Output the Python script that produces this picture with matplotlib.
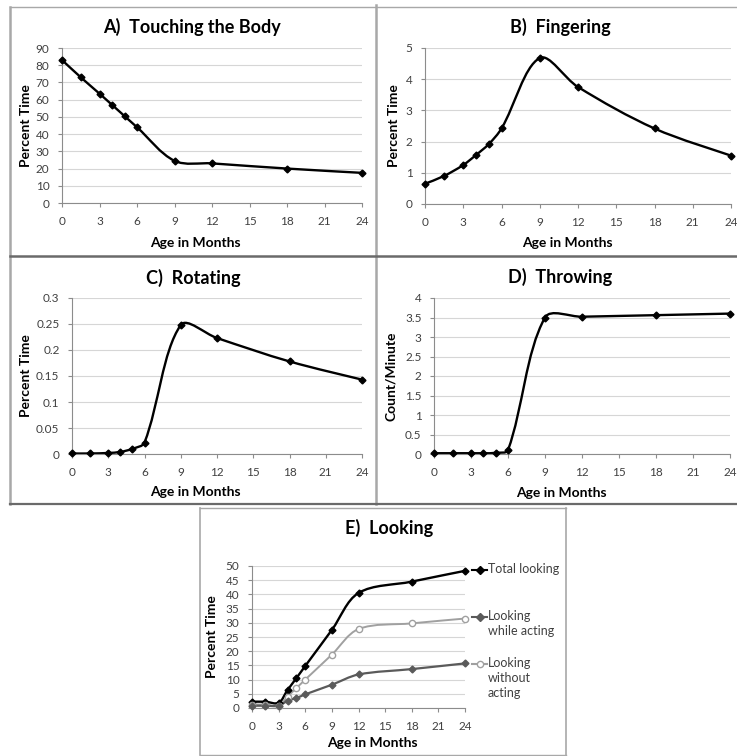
import numpy as np
import matplotlib
matplotlib.use("Agg")
import matplotlib.pyplot as plt
from matplotlib.path import Path
from matplotlib.patches import PathPatch
from matplotlib.lines import Line2D

plt.rcParams["font.family"] = ["Lato", "DejaVu Sans"]

# ages (months) at which each measure was taken
months = [0, 1.5, 3, 4, 5, 6, 9, 12, 18, 24]

touching = [83, 73, 63.5, 57, 50.5, 44, 24.5, 23, 20, 17.5]
fingering = [0.65, 0.9, 1.25, 1.57, 1.92, 2.42, 4.68, 3.75, 2.42, 1.55]
rotating = [0.001, 0.001, 0.002, 0.004, 0.01, 0.022, 0.248, 0.223, 0.178, 0.143]
throwing = [0.02, 0.02, 0.02, 0.02, 0.03, 0.1, 3.5, 3.52, 3.56, 3.6]

look_total = [2.2, 2.2, 1.8, 6.3, 10.5, 14.8, 27.5, 40.5, 44.5, 48.3]
look_acting = [0.8, 0.8, 0.8, 2.5, 3.5, 4.8, 8.2, 11.8, 13.7, 15.7]
look_without = [1.2, 1.2, 0.8, 4.0, 7.0, 10.0, 18.8, 27.8, 29.8, 31.5]

x_ticks = [0, 3, 6, 9, 12, 15, 18, 21, 24]
a_ticks = ["0", "10", "20", "30", "40", "50", "60", "70", "80", "90"]
b_ticks = ["0", "1", "2", "3", "4", "5"]
c_ticks = ["0", "0.05", "0.1", "0.15", "0.2", "0.25", "0.3"]
d_ticks = ["0", "0.5", "1", "1.5", "2", "2.5", "3", "3.5", "4"]
e_ticks = ["0", "5", "10", "15", "20", "25", "30", "35", "40", "45", "50"]

W, H = 737, 756
fig = plt.figure(figsize=(W / 100, H / 100), dpi=100)


def fx(px):
    return px / W


def fy(py):
    return 1 - py / H


def smooth_path(ax, x, y):
    # excel style smoothed line: bezier segments, tangents weighted by
    # the on-screen segment lengths so short flat steps don't overshoot
    pts = ax.transData.transform(np.column_stack([x, y]).astype(float))
    n = len(pts)
    seg = np.hypot(*np.diff(pts, axis=0).T)
    verts = [pts[0]]
    codes = [Path.MOVETO]
    for i in range(n - 1):
        p0 = pts[max(i - 1, 0)]
        p1 = pts[i]
        p2 = pts[i + 1]
        p3 = pts[min(i + 2, n - 1)]
        l_prev = seg[i - 1] if i > 0 else seg[i]
        l_next = seg[i + 1] if i < n - 2 else seg[i]
        f1 = seg[i] / (l_prev + seg[i]) / 3
        f2 = seg[i] / (seg[i] + l_next) / 3
        verts += [p1 + (p2 - p0) * f1, p2 - (p3 - p1) * f2, p2]
        codes += [Path.CURVE4] * 3
    verts = ax.transData.inverted().transform(np.array(verts))
    return Path(verts, codes)


def make_axes(box, ticks, ystep):
    l, r, t, b = box
    ax = fig.add_axes([fx(l), fy(b), fx(r - l), (b - t) / H])
    ymax = ystep * (len(ticks) - 1)
    ax.set_xlim(0, 24)
    ax.set_ylim(0, ymax)
    ax.set_xticks(x_ticks)
    ax.set_yticks(np.arange(len(ticks)) * ystep)
    ax.set_yticklabels(ticks)
    ax.yaxis.grid(True, color="#d6d6d6", lw=0.8)
    ax.set_axisbelow(True)
    for s in ["top", "right"]:
        ax.spines[s].set_visible(False)
    for s in ["left", "bottom"]:
        ax.spines[s].set_color("#8c8c8c")
        ax.spines[s].set_linewidth(0.8)
    ax.tick_params(labelsize=8.5, labelcolor="#404040", length=3, width=0.8,
                   color="#8c8c8c", pad=6)
    return ax


def draw_series(ax, y, color="black", lw=1.7, marker="D", ms=3.5, mfc=None):
    ax.add_patch(PathPatch(smooth_path(ax, months, y), fill=False, ec=color, lw=lw,
                           capstyle="round", joinstyle="round", clip_on=False))
    ax.plot(months, y, ls="none", marker=marker, ms=ms, color=color,
            mfc=mfc if mfc else color, mew=1.0, clip_on=False, zorder=3)


def label_panel(title, tx, ty, xlx, xly, ylx, yly, ylabel):
    fig.text(fx(tx), fy(ty), title, ha="center", va="center", fontsize=13,
             fontweight="bold")
    fig.text(fx(xlx), fy(xly), "Age in Months", ha="center", va="center",
             fontsize=10, fontweight="bold")
    fig.text(fx(ylx), fy(yly), ylabel, ha="center", va="center", fontsize=10,
             fontweight="bold", rotation=90)


# A) touching the body
ax = make_axes((62, 362, 48, 203), a_ticks, 10)
draw_series(ax, touching)
label_panel("A)  Touching the Body", 192, 27, 195, 243, 26, 126, "Percent Time")

# B) fingering
ax = make_axes((425, 731, 48, 204), b_ticks, 1)
draw_series(ax, fingering)
label_panel("B)  Fingering", 560, 27, 567, 243, 394, 126, "Percent Time")

# C) rotating
ax = make_axes((72, 362, 298, 454), c_ticks, 0.05)
draw_series(ax, rotating)
label_panel("C)  Rotating", 193, 278, 195, 492, 26, 376, "Percent Time")

# D) throwing
ax = make_axes((434, 730, 298, 454), d_ticks, 0.5)
draw_series(ax, throwing)
label_panel("D)  Throwing", 560, 277, 561, 493, 391, 376, "Count/Minute")

# E) looking
ax = make_axes((252, 465, 566, 708), e_ticks, 5)
draw_series(ax, look_total, color="black", lw=1.7)
draw_series(ax, look_without, color="#a0a0a0", lw=1.4, marker="o", ms=4.5, mfc="white")
draw_series(ax, look_acting, color="#5a5a5a", lw=1.6)
label_panel("E)  Looking", 389, 528, 372, 743, 212, 637, "Percent Time")

# legend for E, drawn by hand like the excel one
legend_items = [
    ("Total looking", 570, "black", "D", "black"),
    ("Looking\nwhile acting", 617, "#5a5a5a", "D", "#5a5a5a"),
    ("Looking\nwithout\nacting", 664, "#a0a0a0", "o", "white"),
]
for text, ly, c, m, mfc in legend_items:
    fig.add_artist(Line2D([fx(472), fx(487)], [fy(ly), fy(ly)], color=c, lw=1.5,
                          transform=fig.transFigure))
    fig.add_artist(Line2D([fx(479.5)], [fy(ly)], color=c, marker=m, ms=4.5,
                          mfc=mfc, mew=1.0, transform=fig.transFigure))
    fig.text(fx(488), fy(ly - 7), text, ha="left", va="top", fontsize=9,
             color="#404040", linespacing=1.3)


# panel frames
def frame_line(xs, ys, color, lw):
    fig.add_artist(Line2D([fx(v) for v in xs], [fy(v) for v in ys], color=color,
                          lw=lw, transform=fig.transFigure))


frame_line([10, 737], [7, 7], "#a8a8a8", 1.0)
frame_line([10, 10], [7, 504], "#a8a8a8", 1.8)
frame_line([376, 376], [5, 504], "#a8a8a8", 1.8)
frame_line([10, 737], [256, 256], "#6a6a6a", 1.8)
frame_line([10, 737], [504, 504], "#6a6a6a", 1.6)
frame_line([200, 200], [508, 755], "#a8a8a8", 1.2)
frame_line([566, 566], [508, 755], "#a8a8a8", 1.2)
frame_line([200, 566], [508, 508], "#a8a8a8", 1.0)
frame_line([200, 566], [755, 755], "#a8a8a8", 1.0)

fig.savefig("out.png", dpi=100)
